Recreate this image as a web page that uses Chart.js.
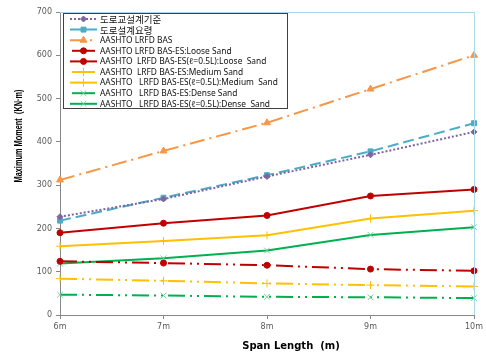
<!DOCTYPE html>
<html>
<head>
<meta charset="utf-8">
<script src="https://cdn.jsdelivr.net/npm/chart.js@4"></script>
<style>
  html, body { margin: 0; padding: 0; background: #fff; }
  #wrap { width: 486px; height: 355px; position: relative; }
</style>
</head>
<body>
<div id="wrap"><canvas id="chart" width="486" height="355"></canvas></div>
<script>
// Span lengths (x categories)
var spans = ['6m', '7m', '8m', '9m', '10m'];

// Maximum moment values (KN·m)
var kdsBridge = [227, 268, 320, 370, 423];       // 도로교설계기준
var kdsRoad = [218, 271, 323, 378, 443];         // 도로설계요령
var basValues = [312, 379, 444, 522, 600];       // AASHTO LRFD BAS
var looseSand = [124, 120, 115, 106, 102];
var looseSandHalf = [190, 212, 230, 275, 290];
var mediumSand = [84, 79, 73, 69, 66];
var mediumSandHalf = [159, 171, 184, 223, 241];
var denseSand = [47, 45, 42, 41, 39];
var denseSandHalf = [119, 131, 149, 185, 203];

var yMin = 0, yMax = 700, yStep = 100;

var seriesLabels = [
    '도로교설계기준',
    '도로설계요령',
    'AASHTO LRFD BAS',
    'AASHTO LRFD BAS-ES:Loose Sand',
    'AASHTO  LRFD BAS-ES(\u2113=0.5L):Loose  Sand',
    'AASHTO  LRFD BAS-ES:Medium Sand',
    'AASHTO   LRFD BAS-ES(\u2113=0.5L):Medium  Sand',
    'AASHTO   LRFD BAS-ES:Dense Sand',
    'AASHTO   LRFD BAS-ES(\u2113=0.5L):Dense  Sand'
];

var purple = '#8064A2', blue = '#4BACC6', orange = '#F79646';
var red = '#C00000', yellow = '#FFC000', green = '#00B050', lightGreen = '#6FD39A';
var dashDotDot = [17, 5, 2, 5, 2, 5];

function series(label, data, color, dash, point, radius, pointColor) {
    return {
        label: label,
        data: data,
        borderColor: color,
        backgroundColor: pointColor || color,
        pointBorderColor: pointColor || color,
        pointBackgroundColor: pointColor || color,
        borderWidth: 2,
        borderDash: dash,
        pointStyle: point,
        pointRadius: radius,
        pointBorderWidth: 1,
        tension: 0,
        fill: false
    };
}

var datasets = [
    series(seriesLabels[0], kdsBridge, purple, [2, 2], 'rectRot', 3),
    series(seriesLabels[1], kdsRoad, blue, [11, 5], 'rect', 3.5),
    series(seriesLabels[2], basValues, orange, [15, 5, 2, 5], 'triangle', 4),
    series(seriesLabels[3], looseSand, red, dashDotDot, 'circle', 3),
    series(seriesLabels[4], looseSandHalf, red, [], 'circle', 3),
    series(seriesLabels[5], mediumSand, yellow, dashDotDot, 'cross', 4),
    series(seriesLabels[6], mediumSandHalf, yellow, [], 'cross', 4),
    series(seriesLabels[7], denseSand, green, dashDotDot, 'crossRot', 4, lightGreen),
    series(seriesLabels[8], denseSandHalf, green, [], 'crossRot', 4, lightGreen)
];

// Frame lines, axis titles and the boxed legend inside the plot
var extrasPlugin = {
    id: 'extras',
    afterDatasetsDraw: function(chart) {
        var ctx = chart.ctx, a = chart.chartArea;
        ctx.save();
        ctx.strokeStyle = '#A9D8E8';
        ctx.lineWidth = 1;
        ctx.beginPath();
        ctx.moveTo(a.left, a.top + 0.5);
        ctx.lineTo(a.right + 0.5, a.top + 0.5);
        ctx.lineTo(a.right + 0.5, a.bottom);
        ctx.stroke();
        ctx.restore();
    },
    afterDraw: function(chart) {
        var ctx = chart.ctx;
        ctx.save();
        // axis titles
        ctx.fillStyle = '#000';
        ctx.textAlign = 'center';
        ctx.textBaseline = 'middle';
        ctx.font = 'bold 10px "DejaVu Sans"';
        ctx.fillText('Span Length  (m)', 291, 346);
        var yTitle = 'Maximum Moment  (KN\u00B7m)';
        ctx.translate(19, 136);
        ctx.rotate(-Math.PI / 2);
        ctx.font = 'bold 10px "Liberation Sans"';
        var w = ctx.measureText(yTitle).width;
        ctx.scale(Math.min(1, 93 / w), 1);   // narrow face, like the original
        ctx.fillText(yTitle, 0, 0);
        ctx.restore();

        // legend box
        var bx = 63, by = 13, bw = 224, bh = 95;
        ctx.save();
        ctx.fillStyle = '#fff';
        ctx.fillRect(bx, by, bw, bh);
        ctx.strokeStyle = '#404040';
        ctx.lineWidth = 1;
        ctx.strokeRect(bx + 0.5, by + 0.5, bw, bh);
        chart.data.datasets.forEach(function(ds, i) {
            var y = 19 + i * 10.6;
            var short = (i === 3 || i === 5 || i === 7);
            ctx.save();
            ctx.strokeStyle = ds.borderColor;
            ctx.lineWidth = 2;
            ctx.setLineDash(i < 3 ? ds.borderDash : []);
            ctx.beginPath();
            ctx.moveTo(short ? 72 : 70, y);
            ctx.lineTo(short ? 95 : 97, y);
            ctx.stroke();
            ctx.restore();
            ctx.save();
            ctx.fillStyle = ds.pointBackgroundColor;
            ctx.strokeStyle = ds.pointBorderColor;
            ctx.lineWidth = 1;
            Chart.helpers.drawPoint(ctx, {
                pointStyle: ds.pointStyle,
                radius: ds.pointRadius,
                borderWidth: 1
            }, 83.5, y);
            ctx.restore();
            ctx.fillStyle = '#111';
            ctx.textAlign = 'left';
            ctx.textBaseline = 'middle';
            ctx.font = i < 2 ? '9.5px "Noto Sans CJK KR"' : '8.4px "Noto Sans"';
            ctx.fillText(ds.label, 100, y + 0.5);
        });
        ctx.restore();
    }
};

var ctx = document.getElementById('chart').getContext('2d');
var chart = new Chart(ctx, {
    type: 'line',
    data: { labels: spans, datasets: datasets },
    options: {
        responsive: false,
        animation: false,
        layout: { padding: { left: 0, right: 9, top: 12, bottom: 0 } },
        plugins: {
            legend: { display: false },
            tooltip: { enabled: false }
        },
        scales: {
            x: {
                offset: false,
                grid: { drawOnChartArea: false, drawTicks: true, tickLength: 4, color: '#888' },
                border: { color: '#888' },
                ticks: { color: '#595959', font: { family: 'DejaVu Sans', size: 8 }, padding: 3, maxRotation: 0 },
                afterFit: function(s) { s.height = 40; }
            },
            y: {
                min: yMin,
                max: yMax,
                ticks: { stepSize: yStep, color: '#595959', font: { family: 'DejaVu Sans', size: 8 }, padding: 4 },
                grid: { drawOnChartArea: false, drawTicks: true, tickLength: 4, color: '#888' },
                border: { color: '#888' },
                afterFit: function(s) { s.width = 60; }
            }
        }
    },
    plugins: [extrasPlugin]
});
</script>
</body>
</html>
